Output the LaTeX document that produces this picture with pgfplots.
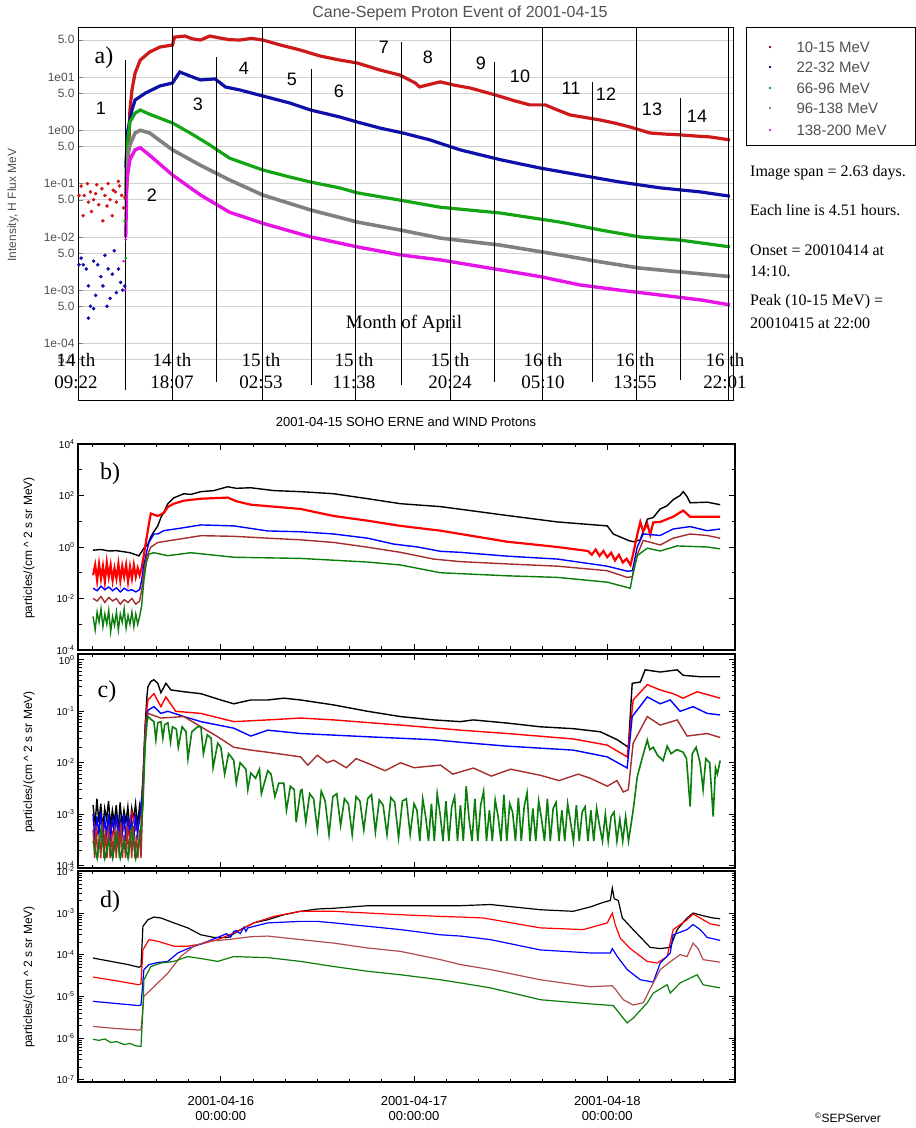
\documentclass[border=0pt]{standalone}
\usepackage{fontspec}
\setmainfont{Liberation Serif}
\setsansfont{Liberation Sans}
\usepackage{pgfplots}
\pgfplotsset{compat=1.18}
\definecolor{aRed}{RGB}{205,25,25}
\definecolor{aBlue}{RGB}{15,15,170}
\definecolor{aGreen}{RGB}{20,165,20}
\definecolor{aGray}{RGB}{128,128,128}
\definecolor{aMag}{RGB}{230,20,230}
\definecolor{bBrown}{RGB}{165,45,45}
\definecolor{bGreen}{RGB}{10,125,10}
\definecolor{txtgray}{RGB}{80,80,80}
\newcommand{\tenpow}[1]{10\textsuperscript{#1}}
\newcommand{\fsz}[1]{\fontsize{#1}{#1}\selectfont}
\begin{document}
\begin{tikzpicture}
\path[use as bounding box] (0,0) rectangle (916pt,1128pt);
% ---------------- panel a ----------------
\begin{axis}[at={(78pt,728pt)}, anchor=south west, scale only axis, width=655pt, height=373pt,
  xmin=0, xmax=63.1, ymode=log, ymin=8.7e-6, ymax=86.7, xtick=\empty,
  ytick={5e-5,1e-4,5e-4,1e-3,5e-3,1e-2,5e-2,1e-1,5e-1,1,5,10,50},
  yticklabels={5.0,1e-04,5.0,1e-03,5.0,1e-02,5.0,1e-01,5.0,1e00,5.0,1e01,5.0},
  yminorticks=false, ymajorgrids, grid style={black!18},
  tick align=inside, ytick pos=left, major tick length=5pt,
  yticklabel style={font=\sffamily\fsz{12}, text=txtgray},
  axis line style={line width=0.9pt}]
\addplot[only marks, mark=*, mark size=1.6pt, aRed] coordinates {(0.3,0.09)(0.6,0.06)(0.9,0.1)(1.2,0.07)(1.5,0.05)(1.8,0.095)(2.0,0.04)(2.3,0.08)(2.6,0.06)(2.9,0.1)(3.1,0.05)(3.4,0.075)(3.7,0.045)(4.0,0.09)(4.2,0.06)(4.5,0.055)(0.5,0.025)(1.3,0.03)(2.4,0.02)(3.3,0.025)(4.4,0.035)(1.0,0.045)(2.8,0.038)(3.9,0.11)(0.1,0.06)(1.7,0.065)(3.6,0.07)};
\addplot[only marks, mark=*, mark size=1.6pt, aBlue] coordinates {(0.3,0.004)(0.5,0.003)(0.8,0.0025)(1.0,0.0012)(1.2,0.0005)(1.5,0.0035)(1.7,0.0008)(1.9,0.003)(2.2,0.0018)(2.4,0.0012)(2.6,0.0045)(2.9,0.0025)(3.1,0.0007)(3.3,0.002)(3.5,0.0055)(3.7,0.0009)(3.9,0.0025)(4.1,0.0014)(4.3,0.001)(4.5,0.0012)(1.0,0.0003)(1.5,0.00045)(2.8,0.0005)(0.1,0.003)};
\addplot[only marks, mark=*, mark size=1.2pt, aMag] coordinates {(4.5,0.001)(4.6,0.009)(4.4,0.0035)};
\addplot[only marks, mark=*, mark size=1.2pt, aGreen] coordinates {(4.6,0.004)(4.5,0.02)};
\addplot[aRed, line width=3.2pt] coordinates {(4.7,0.08)(4.9,0.5)(5.0,2.4)(5.2,5.7)(5.5,11.9)(6.0,20.8)(6.9,29.4)(7.9,36.5)(9.1,39.8)(9.3,56)(10.3,58.7)(11.0,52)(11.8,49.4)(12.7,58.7)(13.7,53.7)(14.6,50)(15.6,49.4)(16.7,53)(17.8,49.4)(19.5,39.8)(21.4,32.1)(23.3,24.8)(25.2,20.8)(26.9,18.3)(29.1,13.5)(31.0,10.9)(32.5,7.7)(32.9,6.5)(33.8,7.2)(34.9,8.1)(36.3,7.0)(37.8,6.2)(40.2,4.6)(42.0,3.6)(43.5,3.0)(45.0,3.0)(46.2,2.4)(47.4,1.94)(50.3,1.56)(51.8,1.35)(53.2,1.15)(55.1,0.89)(56.5,0.85)(58.0,0.82)(59.5,0.78)(60.9,0.75)(62.8,0.66)};
\addplot[aBlue, line width=3.2pt] coordinates {(4.6,0.2)(4.8,1.0)(5.2,2.4)(5.5,3.7)(6.5,5.0)(7.9,6.8)(9.1,7.7)(9.8,12.4)(10.8,10.4)(11.8,8.8)(13.2,9.2)(14.2,6.5)(15.6,5.7)(17.8,4.4)(20.4,3.25)(22.4,2.4)(25.2,1.78)(26.9,1.43)(29.1,1.10)(31.3,0.89)(33.9,0.66)(36.8,0.43)(40.7,0.28)(44.5,0.196)(48.3,0.145)(52.2,0.107)(56.1,0.083)(59.9,0.070)(62.8,0.058)};
\addplot[aGreen, line width=3.2pt] coordinates {(4.6,0.05)(4.7,0.43)(5.0,1.43)(5.5,2.1)(6.0,2.4)(6.9,2.0)(9.1,1.37)(10.8,0.89)(12.7,0.53)(14.6,0.30)(17.8,0.18)(20.4,0.133)(22.4,0.107)(25.2,0.083)(26.9,0.067)(31.0,0.049)(34.9,0.036)(40.7,0.028)(46.4,0.019)(50.3,0.0135)(54.1,0.010)(58.0,0.0087)(62.8,0.0065)};
\addplot[aGray, line width=3.6pt] coordinates {(4.6,0.05)(4.7,0.28)(5.0,0.53)(5.5,0.89)(6.0,1.0)(6.9,0.89)(9.1,0.43)(11.8,0.22)(14.6,0.117)(17.8,0.061)(22.4,0.032)(26.9,0.019)(31.0,0.0135)(34.9,0.0095)(40.7,0.0070)(46.4,0.0046)(50.3,0.0034)(54.1,0.0026)(58.0,0.0022)(62.8,0.0018)};
\addplot[aMag, line width=3.4pt] coordinates {(4.6,0.01)(4.7,0.117)(5.0,0.28)(5.5,0.43)(6.0,0.47)(6.9,0.34)(9.1,0.145)(11.8,0.061)(14.6,0.029)(17.8,0.018)(22.4,0.010)(26.9,0.0065)(31.0,0.0046)(34.9,0.0037)(40.7,0.0024)(44.5,0.0018)(48.3,0.00126)(52.2,0.0010)(56.1,0.00081)(59.9,0.00066)(62.8,0.00053)};
\draw[black, line width=1pt] (axis cs:9.06,8.7e-6) -- (axis cs:9.06,86.7);
\draw[black, line width=1pt] (axis cs:17.82,8.7e-6) -- (axis cs:17.82,86.7);
\draw[black, line width=1pt] (axis cs:26.78,8.7e-6) -- (axis cs:26.78,86.7);
\draw[black, line width=1pt] (axis cs:35.84,8.7e-6) -- (axis cs:35.84,86.7);
\draw[black, line width=1pt] (axis cs:44.70,8.7e-6) -- (axis cs:44.70,86.7);
\draw[black, line width=1pt] (axis cs:53.76,8.7e-6) -- (axis cs:53.76,86.7);
\draw[black, line width=1pt] (axis cs:62.62,8.7e-6) -- (axis cs:62.62,86.7);
\draw[black, line width=1pt] (axis cs:4.53,1.35e-5) -- (axis cs:4.53,20.8);
\draw[black, line width=1pt] (axis cs:13.39,1.9e-5) -- (axis cs:13.39,23.7);
\draw[black, line width=1pt] (axis cs:22.54,1.66e-5) -- (axis cs:22.54,14.1);
\draw[black, line width=1pt] (axis cs:31.21,1.66e-5) -- (axis cs:31.21,45.4);
\draw[black, line width=1pt] (axis cs:40.08,1.9e-5) -- (axis cs:40.08,19.1);
\draw[black, line width=1pt] (axis cs:49.52,1.9e-5) -- (axis cs:49.52,8.1);
\draw[black, line width=1pt] (axis cs:58.0,2.1e-5) -- (axis cs:58.0,4.04);
\end{axis}
% ---------------- panel b ----------------
\begin{axis}[at={(78pt,478pt)}, anchor=south west, scale only axis, width=657pt, height=206pt,
  xmin=-0.739, xmax=2.661, ymode=log, ymin=1e-4, ymax=1e4,
  xtick={0,1,2}, xticklabels={,,},
  minor xtick={-0.6667,-0.5,-0.3333,-0.1667,0.1667,0.3333,0.5,0.6667,0.8333,1.1667,1.3333,1.5,1.6667,1.8333,2.1667,2.3333,2.5},
  ytick={1e-4,1e-2,1,1e2,1e4}, minor ytick={1e-3,1e-1,10,1e3},
  yticklabels={{\tenpow{-4}},{\tenpow{-2}},{\tenpow{0}},{\tenpow{2}},{\tenpow{4}}},
  tick align=inside, major tick length=6pt, minor tick length=3.5pt,
  axis line style={line width=1.1pt}, tick style={black, line width=0.8pt},
  yticklabel style={font=\sffamily\fsz{10}}]
\addplot[black, line width=1.4pt] coordinates {(-0.661,0.75)(-0.62,0.8)(-0.58,0.7)(-0.54,0.72)(-0.50,0.65)(-0.47,0.6)(-0.44,0.5)(-0.424,0.45)(-0.413,0.6)(-0.398,0.9)(-0.377,1.3)(-0.362,2.5)(-0.346,4)(-0.326,6.6)(-0.31,14)(-0.295,22)(-0.274,48)(-0.243,81)(-0.191,117)(-0.155,110)(-0.103,141)(-0.036,155)(0.036,219)(0.08,190)(0.155,200)(0.274,155)(0.413,141)(0.584,117)(0.76,75)(0.93,48)(1.137,37)(1.483,16.7)(1.742,9.4)(2.0,6.6)(2.031,3.2)(2.109,1.8)(2.134,1.6)(2.171,1.9)(2.207,12)(2.238,14)(2.274,30)(2.31,40)(2.341,69)(2.377,100)(2.393,141)(2.413,90)(2.429,52)(2.517,55)(2.584,44)};
\addplot[red, line width=2.2pt] coordinates {(-0.661,0.08)(-0.65,0.2)(-0.64,0.05)(-0.63,0.22)(-0.62,0.06)(-0.61,0.18)(-0.60,0.045)(-0.59,0.25)(-0.58,0.07)(-0.57,0.2)(-0.56,0.05)(-0.55,0.15)(-0.54,0.06)(-0.53,0.22)(-0.52,0.05)(-0.51,0.18)(-0.50,0.07)(-0.49,0.2)(-0.48,0.045)(-0.47,0.17)(-0.46,0.06)(-0.45,0.2)(-0.44,0.07)(-0.43,0.15)(-0.42,0.08)(-0.41,0.15)(-0.398,0.5)(-0.385,2)(-0.372,8)(-0.362,20)(-0.346,18)(-0.326,16)(-0.295,21)(-0.274,36)(-0.243,48)(-0.191,63)(-0.103,75)(0.036,83)(0.08,60)(0.155,44)(0.413,30)(0.584,16)(0.76,10.5)(0.93,6.6)(1.137,4.3)(1.483,1.6)(1.742,1.0)(1.90,0.7)(1.92,0.5)(1.94,0.8)(1.96,0.45)(1.98,0.7)(2.0,0.4)(2.02,0.6)(2.04,0.3)(2.06,0.5)(2.08,0.25)(2.1,0.35)(2.12,0.2)(2.13,0.4)(2.155,3)(2.171,9.4)(2.186,4)(2.207,8)(2.222,3)(2.238,9)(2.274,9.4)(2.341,15)(2.393,26)(2.429,15)(2.584,15)};
\addplot[blue, line width=1.4pt] coordinates {(-0.661,0.025)(-0.64,0.02)(-0.62,0.03)(-0.60,0.022)(-0.58,0.028)(-0.56,0.02)(-0.54,0.026)(-0.52,0.018)(-0.50,0.025)(-0.48,0.02)(-0.46,0.022)(-0.44,0.018)(-0.42,0.022)(-0.41,0.05)(-0.398,0.2)(-0.385,0.6)(-0.372,1.5)(-0.346,3.2)(-0.326,3.2)(-0.295,4.3)(-0.2,5.5)(-0.103,7.2)(0.067,6.6)(0.243,4.2)(0.413,3.9)(0.584,3.2)(0.76,2.2)(0.894,1.3)(1.018,1.0)(1.137,0.68)(1.24,0.62)(1.483,0.44)(1.742,0.34)(2.0,0.18)(2.103,0.115)(2.13,0.12)(2.155,1.0)(2.186,3.2)(2.274,2.8)(2.341,5.0)(2.429,6.2)(2.517,4.3)(2.584,5.0)};
\addplot[bBrown, line width=1.4pt] coordinates {(-0.661,0.01)(-0.64,0.008)(-0.62,0.012)(-0.60,0.007)(-0.58,0.011)(-0.56,0.008)(-0.54,0.01)(-0.52,0.006)(-0.50,0.009)(-0.48,0.007)(-0.46,0.01)(-0.44,0.006)(-0.42,0.008)(-0.41,0.02)(-0.398,0.1)(-0.385,0.4)(-0.362,1.0)(-0.326,1.5)(-0.103,2.75)(0.067,2.6)(0.243,2.2)(0.413,1.9)(0.584,1.5)(0.76,0.98)(0.93,0.62)(1.101,0.34)(1.24,0.27)(1.483,0.22)(1.742,0.18)(2.0,0.12)(2.103,0.066)(2.13,0.07)(2.155,0.5)(2.186,1.8)(2.274,1.2)(2.341,2.2)(2.429,3.2)(2.517,2.8)(2.584,2.2)};
\addplot[bGreen, line width=1.4pt] coordinates {(-0.661,0.002)(-0.65,0.0006)(-0.64,0.003)(-0.63,0.0012)(-0.62,0.004)(-0.61,0.0008)(-0.60,0.0025)(-0.59,0.001)(-0.58,0.0035)(-0.57,0.0005)(-0.56,0.002)(-0.55,0.0009)(-0.54,0.003)(-0.53,0.0006)(-0.52,0.0025)(-0.51,0.0012)(-0.50,0.004)(-0.49,0.0007)(-0.48,0.0022)(-0.47,0.001)(-0.46,0.003)(-0.45,0.0008)(-0.44,0.0025)(-0.43,0.001)(-0.42,0.002)(-0.41,0.005)(-0.398,0.05)(-0.385,0.25)(-0.372,0.53)(-0.346,0.6)(-0.274,0.46)(-0.155,0.6)(0.067,0.4)(0.413,0.36)(0.76,0.26)(0.93,0.2)(1.137,0.1)(1.483,0.076)(1.742,0.066)(2.0,0.043)(2.119,0.025)(2.134,0.1)(2.155,0.46)(2.207,0.9)(2.274,0.7)(2.362,1.1)(2.517,1.0)(2.584,0.85)};
\end{axis}
% ---------------- panel c ----------------
\begin{axis}[at={(78pt,260pt)}, anchor=south west, scale only axis, width=657pt, height=214pt,
  xmin=-0.739, xmax=2.661, ymode=log, ymin=9e-5, ymax=1.3,
  xtick={0,1,2}, xticklabels={,,},
  minor xtick={-0.6667,-0.5,-0.3333,-0.1667,0.1667,0.3333,0.5,0.6667,0.8333,1.1667,1.3333,1.5,1.6667,1.8333,2.1667,2.3333,2.5},
  ytick={1e-4,1e-3,1e-2,1e-1,1},
  yticklabels={{\tenpow{-4}},{\tenpow{-3}},{\tenpow{-2}},{\tenpow{-1}},{\tenpow{0}}},
  tick align=inside, major tick length=6pt, minor tick length=3.5pt,
  axis line style={line width=1.1pt}, tick style={black, line width=0.8pt},
  yticklabel style={font=\sffamily\fsz{10}}]
\addplot[black, line width=1.4pt] coordinates {(-0.661,1.5e-3)(-0.651,6e-4)(-0.641,2e-3)(-0.631,7e-4)(-0.621,1.6e-3)(-0.611,5e-4)(-0.601,1.3e-3)(-0.591,8e-4)(-0.581,1.8e-3)(-0.571,6e-4)(-0.561,1.2e-3)(-0.551,7e-4)(-0.541,1.5e-3)(-0.531,5e-4)(-0.521,1.7e-3)(-0.511,6e-4)(-0.501,1.2e-3)(-0.491,7e-4)(-0.481,1.4e-3)(-0.471,5e-4)(-0.461,1.3e-3)(-0.451,8e-4)(-0.441,1.6e-3)(-0.431,6e-4)(-0.421,1.4e-3)(-0.415,9e-4)(-0.403,0.005)(-0.392,0.05)(-0.382,0.2)(-0.377,0.3)(-0.362,0.38)(-0.346,0.41)(-0.326,0.35)(-0.31,0.23)(-0.284,0.35)(-0.258,0.26)(-0.191,0.24)(-0.103,0.22)(0.0,0.166)(0.067,0.14)(0.155,0.166)(0.243,0.166)(0.326,0.18)(0.413,0.166)(0.584,0.133)(0.76,0.1)(0.93,0.079)(1.101,0.068)(1.24,0.063)(1.307,0.068)(1.483,0.059)(1.654,0.05)(1.824,0.046)(1.964,0.04)(2.052,0.028)(2.109,0.02)(2.129,0.35)(2.171,0.37)(2.196,0.64)(2.274,0.58)(2.362,0.64)(2.393,0.5)(2.481,0.47)(2.584,0.47)};
\addplot[red, line width=1.4pt] coordinates {(-0.661,8e-4)(-0.64,4e-4)(-0.62,9e-4)(-0.60,3e-4)(-0.58,7e-4)(-0.56,4e-4)(-0.54,8e-4)(-0.52,3e-4)(-0.50,6e-4)(-0.48,4e-4)(-0.46,1.1e-3)(-0.44,5e-4)(-0.42,7e-4)(-0.403,0.004)(-0.392,0.04)(-0.382,0.12)(-0.377,0.166)(-0.346,0.22)(-0.31,0.123)(-0.284,0.19)(-0.233,0.1)(-0.103,0.091)(0.067,0.063)(0.243,0.068)(0.413,0.074)(0.584,0.068)(0.93,0.054)(1.24,0.043)(1.483,0.037)(1.824,0.029)(2.0,0.022)(2.103,0.013)(2.134,0.166)(2.207,0.33)(2.274,0.26)(2.341,0.22)(2.393,0.18)(2.465,0.24)(2.584,0.18)};
\addplot[blue, line width=1.4pt] coordinates {(-0.661,1e-3)(-0.651,3e-4)(-0.641,9e-4)(-0.631,4e-4)(-0.621,1.1e-3)(-0.611,3e-4)(-0.601,8e-4)(-0.591,4e-4)(-0.581,1e-3)(-0.571,3e-4)(-0.561,9e-4)(-0.551,4e-4)(-0.541,1e-3)(-0.531,3e-4)(-0.521,8e-4)(-0.511,4e-4)(-0.501,1e-3)(-0.491,3e-4)(-0.481,9e-4)(-0.471,4e-4)(-0.461,8e-4)(-0.451,3e-4)(-0.441,1e-3)(-0.431,4e-4)(-0.421,8e-4)(-0.403,0.003)(-0.392,0.03)(-0.382,0.08)(-0.377,0.105)(-0.346,0.123)(-0.31,0.091)(-0.274,0.1)(-0.191,0.079)(-0.103,0.063)(0.067,0.047)(0.155,0.033)(0.243,0.043)(0.413,0.037)(0.76,0.032)(1.101,0.028)(1.24,0.025)(1.483,0.021)(1.824,0.0176)(2.0,0.013)(2.103,0.0079)(2.129,0.079)(2.207,0.19)(2.274,0.14)(2.326,0.166)(2.377,0.1)(2.444,0.123)(2.517,0.091)(2.584,0.085)};
\addplot[bBrown, line width=1.4pt] coordinates {(-0.661,5e-4)(-0.653,1.4e-4)(-0.645,6e-4)(-0.637,1.4e-4)(-0.629,4e-4)(-0.621,1.4e-4)(-0.613,7e-4)(-0.605,1.4e-4)(-0.597,5e-4)(-0.589,1.4e-4)(-0.581,6e-4)(-0.573,1.4e-4)(-0.565,4e-4)(-0.557,1.4e-4)(-0.549,6e-4)(-0.541,1.4e-4)(-0.533,5e-4)(-0.525,1.4e-4)(-0.517,7e-4)(-0.509,1.4e-4)(-0.501,4e-4)(-0.493,1.4e-4)(-0.485,6e-4)(-0.477,1.4e-4)(-0.469,5e-4)(-0.461,1.4e-4)(-0.453,6e-4)(-0.445,1.4e-4)(-0.437,4e-4)(-0.429,1.4e-4)(-0.421,5e-4)(-0.413,1.4e-4)(-0.403,0.002)(-0.392,0.03)(-0.382,0.07)(-0.377,0.091)(-0.31,0.074)(-0.191,0.079)(-0.103,0.05)(-0.016,0.032)(0.067,0.02)(0.155,0.0176)(0.243,0.016)(0.413,0.013)(0.45,0.009)(0.5,0.014)(0.55,0.01)(0.584,0.0112)(0.65,0.008)(0.7,0.012)(0.76,0.0098)(0.85,0.007)(0.93,0.01)(1.0,0.008)(1.137,0.009)(1.2,0.006)(1.307,0.0079)(1.4,0.0055)(1.5,0.0075)(1.654,0.0057)(1.75,0.0045)(1.85,0.006)(1.912,0.005)(2.0,0.0035)(2.05,0.0045)(2.083,0.0027)(2.109,0.003)(2.134,0.024)(2.207,0.079)(2.274,0.054)(2.362,0.068)(2.413,0.033)(2.517,0.037)(2.584,0.031)};
\addplot[bGreen, line width=1.6pt] coordinates {(-0.661,3e-4)(-0.64,1.4e-4)(-0.62,5e-4)(-0.60,1.4e-4)(-0.58,3e-4)(-0.56,1.4e-4)(-0.54,4e-4)(-0.52,1.4e-4)(-0.50,3e-4)(-0.48,1.4e-4)(-0.46,5e-4)(-0.44,1.4e-4)(-0.42,3e-4)(-0.403,0.0015)(-0.392,0.02)(-0.382,0.06)(-0.377,0.079)(-0.362,0.07)(-0.346,0.063)(-0.336,0.028)(-0.326,0.06)(-0.31,0.063)(-0.3,0.03)(-0.29,0.055)(-0.274,0.06)(-0.26,0.025)(-0.25,0.05)(-0.23,0.045)(-0.22,0.02)(-0.2,0.05)(-0.18,0.04)(-0.17,0.012)(-0.15,0.04)(-0.12,0.05)(-0.103,0.05)(-0.09,0.015)(-0.07,0.035)(-0.05,0.03)(-0.04,0.008)(-0.016,0.024)(0.0,0.02)(0.02,0.006)(0.04,0.015)(0.067,0.0112)(0.08,0.004)(0.1,0.01)(0.13,0.0075)(0.14,0.003)(0.155,0.0063)(0.18,0.005)(0.2,0.0075)(0.21,0.0025)(0.243,0.007)(0.26,0.006)(0.28,0.0022)(0.3,0.004)(0.326,0.004)(0.34,0.0012)(0.36,0.0035)(0.38,0.003)(0.39,0.0007)(0.413,0.0029)(0.42,0.003)(0.44,0.0007)(0.46,0.0025)(0.48,0.002)(0.50,0.0005)(0.52,0.0028)(0.54,0.0018)(0.56,0.0004)(0.58,0.0022)(0.60,0.0025)(0.62,0.0006)(0.64,0.002)(0.66,0.0016)(0.68,0.0004)(0.70,0.0022)(0.72,0.0018)(0.74,0.0005)(0.76,0.002)(0.78,0.0024)(0.80,0.00045)(0.82,0.0019)(0.84,0.0015)(0.86,0.0004)(0.88,0.0021)(0.90,0.0017)(0.92,0.00035)(0.94,0.0018)(0.96,0.002)(0.98,0.0004)(1.00,0.0016)(1.015,0.0012)(1.03,0.0003)(1.045,0.002)(1.06,0.0009)(1.075,0.0003)(1.09,0.0016)(1.105,0.0003)(1.12,0.0025)(1.135,0.001)(1.15,0.0003)(1.165,0.0018)(1.18,0.0003)(1.195,0.0014)(1.21,0.0022)(1.225,0.0003)(1.24,0.0015)(1.255,0.0003)(1.27,0.0035)(1.285,0.0008)(1.30,0.0003)(1.315,0.002)(1.33,0.0003)(1.345,0.0015)(1.36,0.0028)(1.375,0.0003)(1.39,0.0012)(1.405,0.0003)(1.42,0.0019)(1.435,0.0009)(1.45,0.0003)(1.465,0.0024)(1.48,0.0003)(1.495,0.0016)(1.51,0.0011)(1.525,0.0003)(1.54,0.0021)(1.555,0.0003)(1.57,0.0014)(1.585,0.0026)(1.60,0.0003)(1.615,0.0013)(1.63,0.0003)(1.645,0.0018)(1.66,0.0008)(1.675,0.0003)(1.69,0.002)(1.705,0.0003)(1.72,0.0013)(1.735,0.0017)(1.75,0.0003)(1.765,0.0012)(1.78,0.0003)(1.795,0.0016)(1.81,0.0007)(1.825,0.0003)(1.84,0.0015)(1.855,0.0003)(1.87,0.0011)(1.885,0.0014)(1.90,0.0003)(1.915,0.0012)(1.93,0.0003)(1.945,0.0013)(1.96,0.0006)(1.975,0.0003)(1.99,0.001)(2.005,0.0003)(2.02,0.0009)(2.035,0.0011)(2.05,0.0003)(2.065,0.0008)(2.08,0.0003)(2.095,0.0009)(2.11,0.0003)(2.119,0.0005)(2.134,0.0012)(2.155,0.0053)(2.18,0.012)(2.207,0.0276)(2.22,0.018)(2.238,0.02)(2.26,0.014)(2.289,0.011)(2.31,0.021)(2.33,0.015)(2.36,0.018)(2.393,0.016)(2.41,0.012)(2.429,0.0014)(2.44,0.015)(2.46,0.02)(2.48,0.01)(2.496,0.003)(2.51,0.012)(2.53,0.01)(2.548,0.0009)(2.56,0.008)(2.57,0.006)(2.584,0.011)};
\end{axis}
% ---------------- panel d ----------------
\begin{axis}[at={(78pt,46pt)}, anchor=south west, scale only axis, width=657pt, height=211pt,
  xmin=-0.739, xmax=2.661, ymode=log, ymin=8.8e-8, ymax=1.02e-2,
  xtick={0,1,2},
  xticklabels={{2001-04-16\\00:00:00},{2001-04-17\\00:00:00},{2001-04-18\\00:00:00}},
  xticklabel style={align=center, font=\sffamily\fontsize{13}{15}\selectfont, yshift=-11pt},
  minor xtick={-0.6667,-0.5,-0.3333,-0.1667,0.1667,0.3333,0.5,0.6667,0.8333,1.1667,1.3333,1.5,1.6667,1.8333,2.1667,2.3333,2.5},
  ytick={1e-7,1e-6,1e-5,1e-4,1e-3,1e-2},
  yticklabels={{\tenpow{-7}},{\tenpow{-6}},{\tenpow{-5}},{\tenpow{-4}},{\tenpow{-3}},{\tenpow{-2}}},
  tick align=inside, major tick length=6pt, minor tick length=3.5pt,
  axis line style={line width=1.1pt}, tick style={black, line width=0.8pt},
  yticklabel style={font=\sffamily\fsz{10}}]
\addplot[black, line width=1.2pt] coordinates {(-0.661,8.3e-5)(-0.568,6.9e-5)(-0.481,5.8e-5)(-0.424,5.0e-5)(-0.413,5.2e-5)(-0.403,4.8e-4)(-0.377,6.9e-4)(-0.346,8e-4)(-0.31,7.6e-4)(-0.243,5.8e-4)(-0.171,4.4e-4)(-0.103,3.0e-4)(-0.036,2.6e-4)(0.036,2.6e-4)(0.103,4e-4)(0.171,5.8e-4)(0.243,6.9e-4)(0.326,9.1e-4)(0.413,1.1e-3)(0.501,1.25e-3)(0.584,1.3e-3)(0.76,1.5e-3)(0.93,1.5e-3)(1.24,1.5e-3)(1.395,1.6e-3)(1.654,1.2e-3)(1.824,1.1e-3)(1.912,1.4e-3)(1.979,1.8e-3)(2.016,2.0e-3)(2.026,4e-3)(2.036,2.2e-3)(2.057,2.0e-3)(2.078,7.6e-4)(2.134,4e-4)(2.222,1.5e-4)(2.274,1.4e-4)(2.326,1.5e-4)(2.362,4e-4)(2.413,7.6e-4)(2.444,1.0e-3)(2.496,8.6e-4)(2.548,7.6e-4)(2.584,7.3e-4)};
\addplot[red, line width=1.2pt] coordinates {(-0.661,2.9e-5)(-0.55,2.4e-5)(-0.424,1.9e-5)(-0.413,2e-5)(-0.403,1.3e-4)(-0.372,2.3e-4)(-0.326,2.1e-4)(-0.243,1.6e-4)(-0.171,1.6e-4)(-0.103,1.8e-4)(-0.016,2.3e-4)(0.067,3.3e-4)(0.171,5.8e-4)(0.274,8.3e-4)(0.413,1.1e-3)(0.584,1.1e-3)(0.76,1.0e-3)(0.93,9.1e-4)(1.137,8.3e-4)(1.24,8e-4)(1.359,7.6e-4)(1.654,4.4e-4)(1.876,4e-4)(2.0,5.8e-4)(2.026,1e-3)(2.041,5.3e-4)(2.067,2.5e-4)(2.119,1.4e-4)(2.207,6.9e-5)(2.258,6.3e-5)(2.31,9e-5)(2.341,4e-4)(2.413,6.9e-4)(2.444,9.5e-4)(2.496,6.9e-4)(2.532,5.5e-4)(2.584,5e-4)};
\addplot[blue, line width=1.2pt] coordinates {(-0.661,7.6e-6)(-0.55,6.8e-6)(-0.424,6e-6)(-0.413,6.2e-6)(-0.398,4.4e-5)(-0.372,5.8e-5)(-0.326,6.5e-5)(-0.274,6.9e-5)(-0.222,1.1e-4)(-0.171,1.4e-4)(-0.103,1.8e-4)(-0.016,2.6e-4)(0.03,3.2e-4)(0.05,2.6e-4)(0.067,3.6e-4)(0.08,3.8e-4)(0.1,3.2e-4)(0.12,4.6e-4)(0.13,3.6e-4)(0.14,4.4e-4)(0.243,5.8e-4)(0.413,6.3e-4)(0.501,6.3e-4)(0.584,5.8e-4)(0.76,4.8e-4)(0.93,4e-4)(1.137,3.0e-4)(1.24,2.8e-4)(1.395,2.3e-4)(1.654,1.3e-4)(1.912,1.1e-4)(2.016,1.1e-4)(2.026,1.4e-4)(2.052,9e-5)(2.103,4.4e-5)(2.171,2.5e-5)(2.238,2.2e-5)(2.274,6.3e-5)(2.326,1.1e-4)(2.341,3.0e-4)(2.413,4e-4)(2.444,5.3e-4)(2.481,4e-4)(2.517,2.6e-4)(2.584,2.2e-4)};
\addplot[bBrown!85!white, line width=1.2pt] coordinates {(-0.661,1.9e-6)(-0.55,1.7e-6)(-0.424,1.55e-6)(-0.413,1.6e-6)(-0.398,1e-5)(-0.346,1.7e-5)(-0.274,3.6e-5)(-0.207,9.1e-5)(-0.14,1.6e-4)(-0.067,2.1e-4)(0.036,2.3e-4)(0.155,2.7e-4)(0.243,2.8e-4)(0.413,2.3e-4)(0.584,1.9e-4)(0.76,1.45e-4)(0.93,1.2e-4)(1.137,7.6e-5)(1.24,5.8e-5)(1.395,4.4e-5)(1.654,2.5e-5)(1.912,1.7e-5)(2.026,1.8e-5)(2.041,1.5e-5)(2.083,8.3e-6)(2.134,6.2e-6)(2.186,7e-6)(2.222,1.5e-5)(2.274,4.4e-5)(2.341,7.6e-5)(2.377,1e-4)(2.413,9e-5)(2.444,1.9e-4)(2.47,1.4e-4)(2.496,7.6e-5)(2.584,6.6e-5)};
\addplot[bGreen, line width=1.2pt] coordinates {(-0.661,9.3e-7)(-0.63,8.8e-7)(-0.6,9.5e-7)(-0.57,7.8e-7)(-0.54,8.2e-7)(-0.5,7e-7)(-0.47,7.4e-7)(-0.44,6.5e-7)(-0.413,6.3e-7)(-0.403,5e-6)(-0.398,2.5e-5)(-0.362,5.2e-5)(-0.31,6.3e-5)(-0.243,6.9e-5)(-0.171,9e-5)(-0.103,8.1e-5)(-0.016,6.9e-5)(0.067,9e-5)(0.243,8.5e-5)(0.413,6.9e-5)(0.584,5.2e-5)(0.76,4.0e-5)(0.93,3.3e-5)(1.137,2.5e-5)(1.24,2.1e-5)(1.395,1.6e-5)(1.654,8.3e-6)(1.912,6.6e-6)(2.031,6e-6)(2.103,2.3e-6)(2.134,3e-6)(2.207,7e-6)(2.238,1.2e-5)(2.31,1.9e-5)(2.326,1.2e-5)(2.377,2.1e-5)(2.465,3.3e-5)(2.496,1.9e-5)(2.584,1.6e-5)};
\end{axis}
% ---------------- texts ----------------
\node[font=\sffamily\fsz{16}, text=txtgray] at (460pt,1115pt) {Cane-Sepem Proton Event of 2001-04-15};
\node[font=\sffamily\fsz{12}, text=txtgray, rotate=90] at (13pt,923pt) {Intensity, H Flux MeV};
\node[font=\fsz{24}] at (104pt,1070pt) {a)};
\node[font=\fsz{24}] at (110pt,654pt) {b)};
\node[font=\fsz{24}] at (107pt,436pt) {c)};
\node[font=\fsz{24}] at (110pt,226pt) {d)};
\node[font=\sffamily\fsz{18}] at (101pt,1020pt) {1};
\node[font=\sffamily\fsz{18}] at (152pt,933pt) {2};
\node[font=\sffamily\fsz{18}] at (198pt,1024pt) {3};
\node[font=\sffamily\fsz{18}] at (244pt,1060pt) {4};
\node[font=\sffamily\fsz{18}] at (292pt,1049pt) {5};
\node[font=\sffamily\fsz{18}] at (339pt,1037pt) {6};
\node[font=\sffamily\fsz{18}] at (384pt,1081pt) {7};
\node[font=\sffamily\fsz{18}] at (428pt,1071pt) {8};
\node[font=\sffamily\fsz{18}] at (481pt,1065pt) {9};
\node[font=\sffamily\fsz{18}] at (520pt,1052pt) {10};
\node[font=\sffamily\fsz{18}] at (571pt,1040pt) {11};
\node[font=\sffamily\fsz{18}] at (606pt,1034pt) {12};
\node[font=\sffamily\fsz{18}] at (652pt,1019pt) {13};
\node[font=\sffamily\fsz{18}] at (697pt,1012pt) {14};
\node[font=\fsz{19}] at (76pt,768pt) {14 th};  \node[font=\fsz{19}] at (76pt,746pt) {09:22};
\node[font=\fsz{19}] at (172pt,768pt) {14 th}; \node[font=\fsz{19}] at (172pt,746pt) {18:07};
\node[font=\fsz{19}] at (261pt,768pt) {15 th}; \node[font=\fsz{19}] at (261pt,746pt) {02:53};
\node[font=\fsz{19}] at (354pt,768pt) {15 th}; \node[font=\fsz{19}] at (354pt,746pt) {11:38};
\node[font=\fsz{19}] at (450pt,768pt) {15 th}; \node[font=\fsz{19}] at (450pt,746pt) {20:24};
\node[font=\fsz{19}] at (543pt,768pt) {16 th}; \node[font=\fsz{19}] at (543pt,746pt) {05:10};
\node[font=\fsz{19}] at (635pt,768pt) {16 th}; \node[font=\fsz{19}] at (635pt,746pt) {13:55};
\node[font=\fsz{19}] at (725pt,768pt) {16 th}; \node[font=\fsz{19}] at (725pt,746pt) {22:01};
\node[font=\fsz{19}] at (404pt,804pt) {Month of April};
% legend
\draw[black, line width=0.9pt] (746pt,983pt) rectangle (915pt,1101pt);
\fill[aRed!60!black] (770pt,1081pt) circle (1.4pt);
\fill[aBlue!70!black] (770pt,1061pt) circle (1.4pt);
\fill[aGreen] (770pt,1040pt) circle (1.4pt);
\fill[aGray] (770pt,1020pt) circle (1.4pt);
\fill[aMag!60!gray] (770pt,998pt) circle (1.4pt);
\node[anchor=west, font=\sffamily\fsz{15}, text=txtgray] at (793pt,1081pt) {10-15 MeV};
\node[anchor=west, font=\sffamily\fsz{15}, text=txtgray] at (793pt,1061pt) {22-32 MeV};
\node[anchor=west, font=\sffamily\fsz{15}, text=txtgray] at (793pt,1040pt) {66-96 MeV};
\node[anchor=west, font=\sffamily\fsz{15}, text=txtgray] at (793pt,1020pt) {96-138 MeV};
\node[anchor=west, font=\sffamily\fsz{15}, text=txtgray] at (793pt,998pt) {138-200 MeV};
\node[anchor=west, font=\fsz{16}, inner sep=0pt] at (750pt,955pt) {Image span = 2.63 days.};
\node[anchor=west, font=\fsz{16}, inner sep=0pt] at (750pt,918pt) {Each line is 4.51 hours.};
\node[anchor=west, font=\fsz{16}, inner sep=0pt] at (750pt,878pt) {Onset = 20010414 at};
\node[anchor=west, font=\fsz{16}, inner sep=0pt] at (750pt,857pt) {14:10.};
\node[anchor=west, font=\fsz{16}, inner sep=0pt] at (750pt,826pt) {Peak (10-15 MeV) =};
\node[anchor=west, font=\fsz{16}, inner sep=0pt] at (750pt,805pt) {20010415 at 22:00};
\node[font=\sffamily\fsz{13}] at (406pt,706pt) {2001-04-15 SOHO ERNE and WIND Protons};
\node[font=\sffamily\fsz{12}] at (848pt,10pt) {\textsuperscript{©}SEPServer};
\node[font=\sffamily\fsz{12}, rotate=90] at (29pt,580pt) {particles/(cm \textasciicircum\ 2 s sr MeV)};
\node[font=\sffamily\fsz{12}, rotate=90] at (29pt,366pt) {particles/(cm \textasciicircum\ 2 s sr MeV)};
\node[font=\sffamily\fsz{12}, rotate=90] at (29pt,151pt) {particles/(cm \textasciicircum\ 2 s sr MeV)};
\end{tikzpicture}
\end{document}
